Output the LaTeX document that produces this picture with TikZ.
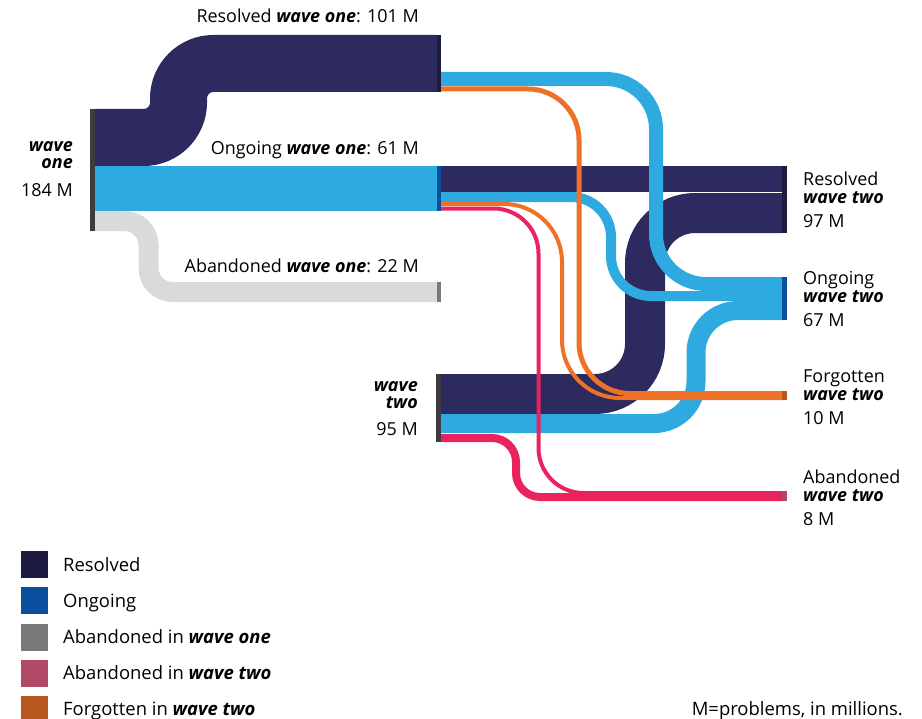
\documentclass[tikz,border=0pt]{standalone}
\usepackage{fontspec}
\setmainfont{Open Sans}
\usepackage{xcolor}
\definecolor{FlowNavy}  {HTML}{2D2A5F}
\definecolor{FlowSky}   {HTML}{2EAAE1}
\definecolor{FlowGrey}  {HTML}{D9DADC}
\definecolor{FlowOrange}{HTML}{EE7128}
\definecolor{FlowPink}  {HTML}{E8235E}
\definecolor{BarNavy}   {HTML}{1D1B3F}
\definecolor{BarBlue}   {HTML}{0A4F9E}
\definecolor{BarGrey}   {HTML}{7A7A7A}
\definecolor{BarPink}   {HTML}{B04866}
\definecolor{BarRust}   {HTML}{B8561F}
\definecolor{BarDark}   {HTML}{3C3C3C}
\usetikzlibrary{positioning}
\newcommand{\wvOne}{\textbf{\textit{wave one}}}
\newcommand{\wvTwo}{\textbf{\textit{wave two}}}
\newcommand{\sinkLabel}[4]{%
  \node[lbl,anchor=base west] (#1a) at (803,#2) {#3};
  \node[lbl,anchor=base west] (#1b) at (803,#2+18) {\wvTwo};
  \node[lbl,anchor=base west] (#1c) at (803,#2+42) {#4};}
\tikzset{
  flow/.style={line width=#1bp},
  bar/.style={inner sep=0pt,minimum width=5bp},
  keybox/.style={inner sep=0pt,minimum size=27bp},
  lbl/.style={font=\fontsize{18}{21}\selectfont,inner sep=0pt},
  keylbl/.style={font=\fontsize{18.5}{21}\selectfont,inner sep=0pt,anchor=base west}
}

\begin{document}
\begin{tikzpicture}[x=1bp,y=-1bp]
  \useasboundingbox (0,0) rectangle (922,719);
  % Flow ends
  \coordinate (res1s) at (95,137.5);  \coordinate (res1e) at (437,63.5);
  \coordinate (ong1s) at (95,188.5);  \coordinate (ong1e) at (437,188.5);
  \coordinate (ab1s)  at (95,221);    \coordinate (ab1e)  at (437,292);
  \coordinate (oresS) at (441,179);   \coordinate (oresE) at (782,179);
  \coordinate (tresS) at (441,394);   \coordinate (tresE) at (782,213);
  \coordinate (ronS)  at (441,79);    \coordinate (ronE)  at (782,284);
  \coordinate (oonS)  at (441,197);   \coordinate (oonE)  at (782,296);
  \coordinate (tonS)  at (441,423.5); \coordinate (tonE)  at (782,310.5);
  \coordinate (rfoS)  at (441,89);    \coordinate (rfoE)  at (782,393.5);
  \coordinate (ofoS)  at (441,204);   \coordinate (ofoE)  at (782,398);
  \coordinate (oabS)  at (441,208.5); \coordinate (oabE)  at (782,493);
  \coordinate (tabS)  at (441,438);   \coordinate (tabE)  at (782,497);
  % Wave one flows
  \draw[flow=20,FlowGrey,rounded corners=24bp]
    (ab1s) -| (148.5,0 |- ab1e) -- (ab1e);
  \draw[flow=57,FlowNavy,rounded corners=35bp]
    (res1s) -| (178.5,0 |- res1e) -- (res1e);
  \draw[flow=45,FlowSky] (ong1s) -- (ong1e);
  % Resolved in wave two
  \draw[flow=26,FlowNavy] (oresS) -- (oresE);
  \draw[flow=40,FlowNavy,rounded corners=50bp]
    (tresS) -| (645,0 |- tresE) -- (tresE);
  % Ongoing in wave two
  \draw[flow=14,FlowSky,rounded corners=50bp]
    (ronS) -| (656,0 |- ronE) -- (ronE);
  \draw[flow=10,FlowSky,rounded corners=40bp]
    (oonS) -| (611,0 |- oonE) -- (oonE);
  \draw[flow=19,FlowSky,rounded corners=42bp]
    (tonS) -| (696,0 |- tonE) -- (tonE);
  % Forgotten in wave two
  \draw[flow=5,FlowOrange,rounded corners=51bp]
    (rfoS) -| (579,0 |- rfoE) -- (rfoE);
  \draw[flow=4,FlowOrange,rounded corners=58bp]
    (ofoS) -| (562,0 |- ofoE) -- (ofoE);
  % Abandoned in wave two
  \draw[flow=4,FlowPink,rounded corners=45bp]
    (oabS) -| (538.5,0 |- oabE) -- (oabE);
  \draw[flow=8,FlowPink,rounded corners=24bp]
    (tabS) -| (516,0 |- tabE) -- (tabE);
  % Bars
  \node[bar,fill=BarDark,minimum height=122bp] (w1) at (92.5,170) {};
  \node[bar,fill=BarNavy,minimum width=4bp,minimum height=57bp] (r1) at (439,63.5) {};
  \node[bar,fill=BarBlue,minimum width=4bp,minimum height=45bp] (o1) at (439,188.5) {};
  \node[bar,fill=BarGrey,minimum width=4bp,minimum height=20bp] (a1) at (439,292) {};
  \node[bar,fill=BarDark,minimum height=68bp] (w2) at (438.5,408) {};
  \node[bar,fill=BarNavy,minimum height=67bp] (r2) at (784.5,199.5) {};
  \node[bar,fill=BarBlue,minimum height=43bp] (o2) at (784.5,298.5) {};
  \node[bar,fill=BarRust,minimum height=9bp] (f2) at (784.5,395.5) {};
  \node[bar,fill=BarPink,minimum height=10bp] (a2) at (784.5,496) {};
  % Source labels
  \node[lbl,anchor=base east] (w1a) at (73,152) {\textbf{\textit{wave}}};
  \node[lbl,anchor=base east] (w1b) at (73,169) {\textbf{\textit{one}}};
  \node[lbl,anchor=base east] (w1c) at (73,196) {184 M};
  \node[lbl,anchor=base east] (w2a) at (418,391) {\textbf{\textit{wave}}};
  \node[lbl,anchor=base east] (w2b) at (418,408) {\textbf{\textit{two}}};
  \node[lbl,anchor=base east] (w2c) at (418,435) {95 M};
  \node[lbl,anchor=base east] (r1l) at (419,23) {Resolved \wvOne: 101 M};
  \node[lbl,anchor=base east] (o1l) at (419,155) {Ongoing \wvOne: 61 M};
  \node[lbl,anchor=base east] (a1l) at (419,272) {Abandoned \wvOne: 22 M};
  % Target labels
  \sinkLabel{r2}{185}{Resolved}{97 M}
  \sinkLabel{o2}{284}{Ongoing}{67 M}
  \sinkLabel{f2}{382}{Forgotten}{10 M}
  \sinkLabel{a2}{483}{Abandoned}{8 M}
  % Key
  \node[keybox,fill=BarNavy] (kres) at (34.5,564.5) {};
  \node[keybox,fill=BarBlue] (kong) at (34.5,600.5) {};
  \node[keybox,fill=BarGrey] (kab1) at (34.5,637.5) {};
  \node[keybox,fill=BarPink] (kab2) at (34.5,673.5) {};
  \node[keybox,fill=BarRust] (kfor) at (34.5,709.5) {};
  \node[keylbl] (kresl) at (63,571) {Resolved};
  \node[keylbl] (kongl) at (63,607) {Ongoing};
  \node[keylbl] (kab1l) at (63,643) {Abandoned in \wvOne};
  \node[keylbl] (kab2l) at (63,679) {Abandoned in \wvTwo};
  \node[keylbl] (kforl) at (63,715) {Forgotten in \wvTwo};
  \node[keylbl,anchor=base east] (note) at (903,715) {M=problems, in millions.};
\end{tikzpicture}
\end{document}
